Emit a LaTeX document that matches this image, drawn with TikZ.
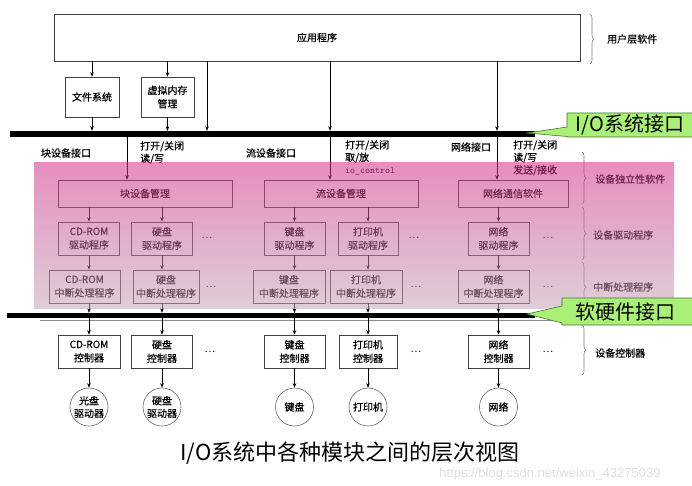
\documentclass[tikz,border=0pt]{standalone}
\usepackage{fontspec}
\setmainfont{Noto Sans CJK SC}
\setsansfont{Liberation Sans}
\newfontfamily\labelfont{Noto Sans CJK SC}[FakeBold=0.6]
\usetikzlibrary{positioning,arrows.meta,decorations.pathreplacing}
\definecolor{calloutgreen}{RGB}{170,240,120}
\definecolor{calloutedge}{RGB}{70,120,40}
\definecolor{pinktop}{RGB}{210,50,137}
\definecolor{pinkbottom}{RGB}{195,164,182}
\tikzset{
  modbox/.style={draw=black!75, line width=0.6pt, inner sep=0pt, align=center, font=\labelfont\fontsize{10}{13.5}\selectfont},
  devcircle/.style={circle, draw=black!60, line width=0.6pt, minimum size=38pt, inner sep=0pt, align=center, font=\labelfont\fontsize{10}{12.5}\selectfont},
  fwd/.style={-{Stealth[length=4.5pt,width=3.5pt]}, line width=0.5pt},
  iobus/.style={fill=black, inner sep=0pt},
  lbl/.style={font=\labelfont\fontsize{10}{12.5}\selectfont, inner sep=0pt, align=left},
  dots/.style={font=\fontsize{10}{12}\selectfont, inner sep=0pt},
  sidebrace/.style={decorate, decoration={brace, amplitude=4pt}, draw=black!50, line width=0.6pt},
  callout/.style={draw=calloutedge, fill=calloutgreen, line width=0.6pt},
  calloutlbl/.style={font=\fontsize{20}{22}\selectfont, inner sep=0pt},
}

\begin{document}
\begin{tikzpicture}[x=1pt, y=-1pt]
  \useasboundingbox (0,0) rectangle (692,486);

  % user layer
  \node[modbox, minimum width=526pt, minimum height=47pt] (app) at (317,37.5) {应用程序};
  \node[modbox, minimum width=54pt, minimum height=40pt] (fs) at (92,97) {文件系统};
  \node[modbox, minimum width=53pt, minimum height=40pt] (vm) at (167.5,97) {虚拟内存\\管理};
  \node[iobus, minimum width=525pt, minimum height=6pt] (iobar) at (272.5,134) {};

  \draw[fwd] (app.south -| fs) -- (fs);
  \draw[fwd] (app.south -| vm) -- (vm);
  \draw[fwd] (fs) -- (iobar.north -| fs);
  \draw[fwd] (vm) -- (iobar.north -| vm);
  \draw[fwd] (app.south -| 207,0) -- (iobar.north -| 207,0);
  \draw[fwd] (app.south -| 330,0) -- (iobar.north -| 330,0);
  \draw[fwd] (app.south -| 497,0) -- (iobar.north -| 497,0);

  % interface labels
  \node[lbl] (blkif) at (66,153) {块设备接口};
  \node[lbl, anchor=north west] (blkops) at (140,141) {打开/关闭\\读/写};
  \node[lbl] (strif) at (271,153) {流设备接口};
  \node[lbl, anchor=north west] (strops) at (345,140) {打开/关闭\\取/放\\{\ttfamily\fontsize{9.5}{12.5}\selectfont io\_control}};
  \node[lbl] (netif) at (471,147) {网络接口};
  \node[lbl, anchor=north west] (netops) at (513,140) {打开/关闭\\读/写\\发送/接收};

  % device independent software
  \node[modbox, minimum width=174pt, minimum height=27pt] (blkmgr) at (145,193.5) {块设备管理};
  \node[modbox, minimum width=154pt, minimum height=27pt] (strmgr) at (341,193.5) {流设备管理};
  \node[modbox, minimum width=110pt, minimum height=27pt] (netsw) at (513,193.5) {网络通信软件};

  \draw[fwd] (iobar.south -| 127,0) -- (blkmgr.north -| 127,0);
  \draw[fwd] (iobar.south -| 330,0) -- (strmgr.north -| 330,0);
  \draw[fwd] (iobar.south -| 497,0) -- (netsw.north -| 497,0);

  % drivers
  \node[modbox, minimum width=61pt, minimum height=33pt] (cddrv) at (89,238.5) {CD-ROM\\驱动程序};
  \node[modbox, minimum width=61pt, minimum height=33pt] (hddrv) at (162,238.5) {硬盘\\驱动程序};
  \node[modbox, minimum width=61pt, minimum height=33pt] (kbdrv) at (294.5,238.5) {键盘\\驱动程序};
  \node[modbox, minimum width=60pt, minimum height=33pt] (prdrv) at (368,238.5) {打印机\\驱动程序};
  \node[modbox, minimum width=61pt, minimum height=33pt] (netdrv) at (498.5,238.5) {网络\\驱动程序};
  \node[dots] (drvdots1) at (207,238) {…};
  \node[dots] (drvdots2) at (414,238) {…};
  \node[dots] (drvdots3) at (548,238) {…};

  \draw[fwd] (blkmgr.south -| cddrv) -- (cddrv);
  \draw[fwd] (blkmgr.south -| hddrv) -- (hddrv);
  \draw[fwd] (strmgr.south -| kbdrv) -- (kbdrv);
  \draw[fwd] (strmgr.south -| prdrv) -- (prdrv);
  \draw[fwd] (netsw.south -| netdrv) -- (netdrv);

  % interrupt handlers
  \node[modbox, minimum width=71pt, minimum height=33pt] (cdint) at (84.5,286.5) {CD-ROM\\中断处理程序};
  \node[modbox, minimum width=66pt, minimum height=33pt] (hdint) at (166,286.5) {硬盘\\中断处理程序};
  \node[modbox, minimum width=72pt, minimum height=33pt] (kbint) at (289,286.5) {键盘\\中断处理程序};
  \node[modbox, minimum width=72pt, minimum height=33pt] (print) at (366,286.5) {打印机\\中断处理程序};
  \node[modbox, minimum width=71pt, minimum height=33pt] (netint) at (493.5,286.5) {网络\\中断处理程序};
  \node[dots] (intdots1) at (211,287) {…};
  \node[dots] (intdots2) at (416,287) {…};
  \node[dots] (intdots3) at (548,287) {…};

  \draw[fwd] (cddrv) -- (cdint.north -| cddrv);
  \draw[fwd] (hddrv) -- (hdint.north -| hddrv);
  \draw[fwd] (kbdrv) -- (kbint.north -| kbdrv);
  \draw[fwd] (prdrv) -- (print.north -| prdrv);
  \draw[fwd] (netdrv) -- (netint.north -| netdrv);

  % hardware/software interface
  \node[iobus, minimum width=528pt, minimum height=5pt] (swbar) at (271,315.5) {};
  \draw[black!45, line width=0.5pt] (40,320.5) -- (565,320.5);

  \draw[fwd] (cdint.south -| cddrv) -- (swbar.north -| cddrv);
  \draw[fwd] (hdint.south -| hddrv) -- (swbar.north -| hddrv);
  \draw[fwd] (kbint.south -| kbdrv) -- (swbar.north -| kbdrv);
  \draw[fwd] (print.south -| prdrv) -- (swbar.north -| prdrv);
  \draw[fwd] (netint.south -| netdrv) -- (swbar.north -| netdrv);

  % controllers
  \node[modbox, minimum width=62pt, minimum height=33pt] (cdctl) at (89,351.5) {CD-ROM\\控制器};
  \node[modbox, minimum width=61pt, minimum height=33pt] (hdctl) at (162,351.5) {硬盘\\控制器};
  \node[modbox, minimum width=61pt, minimum height=33pt] (kbctl) at (294.5,351.5) {键盘\\控制器};
  \node[modbox, minimum width=58pt, minimum height=33pt] (prctl) at (368,351.5) {打印机\\控制器};
  \node[modbox, minimum width=61pt, minimum height=33pt] (netctl) at (498.5,351.5) {网络\\控制器};
  \node[dots] (ctldots1) at (210,352) {…};
  \node[dots] (ctldots2) at (416,352) {…};
  \node[dots] (ctldots3) at (548,352) {…};

  \draw[fwd] (swbar.south -| cdctl) -- (cdctl);
  \draw[fwd] (swbar.south -| hdctl) -- (hdctl);
  \draw[fwd] (swbar.south -| kbctl) -- (kbctl);
  \draw[fwd] (swbar.south -| prctl) -- (prctl);
  \draw[fwd] (swbar.south -| netctl) -- (netctl);

  % devices
  \node[devcircle] (cddisk) at (89,407) {光盘\\驱动器};
  \node[devcircle] (hddisk) at (162,407) {硬盘\\驱动器};
  \node[devcircle] (kbdev) at (294.5,407) {键盘};
  \node[devcircle] (prdev) at (368,407) {打印机};
  \node[devcircle] (netdev) at (498.5,407) {网络};

  \draw[fwd] (cdctl) -- (cddisk);
  \draw[fwd] (hdctl) -- (hddisk);
  \draw[fwd] (kbctl) -- (kbdev);
  \draw[fwd] (prctl) -- (prdev);
  \draw[fwd] (netctl) -- (netdev);

  % layer braces
  \draw[sidebrace] (590,14) -- (590,64);
  \node[lbl, anchor=west] (userlbl) at (607,39) {用户层软件};
  \draw[sidebrace] (582,152) -- (582,204);
  \node[lbl, anchor=west] (indlbl) at (595,179) {设备独立性软件};
  \draw[sidebrace] (582,207) -- (582,260);
  \node[lbl, anchor=west] (drvlbl) at (593,235) {设备驱动程序};
  \draw[sidebrace] (582,262) -- (582,313);
  \node[lbl, anchor=west] (intlbl) at (593,287) {中断处理程序};
  \draw[sidebrace] (582,325) -- (582,375);
  \node[lbl, anchor=west] (ctllbl) at (595,353) {设备控制器};

  % pink layer over the kernel part
  \shade[top color=pinktop, bottom color=pinkbottom, fill opacity=0.55] (34,163) rectangle (674,308);

  % callouts
  \draw[callout] (700,113) -- (567,113) -- (567,127) -- (527,133) -- (567,136.5) -- (567,137) -- (700,137) -- cycle;
  \node[calloutlbl] (iolbl) at (630,125) {I/O系统接口};
  \draw[callout] (700,298) -- (562,298) -- (562,306) -- (527,314) -- (562,323) -- (562,325) -- (700,325) -- cycle;
  \node[calloutlbl] (hwlbl) at (625,312) {软硬件接口};

  % caption
  \node[font=\fontsize{22}{24}\selectfont, inner sep=0pt] (caption) at (350,453) {I/O系统中各种模块之间的层次视图};
  \node[font=\sffamily\fontsize{13}{15}\selectfont, text=black!13, inner sep=0pt] (wmark) at (550,474) {https://blog.csdn.net/weixin\_43275039};
\end{tikzpicture}
\end{document}
